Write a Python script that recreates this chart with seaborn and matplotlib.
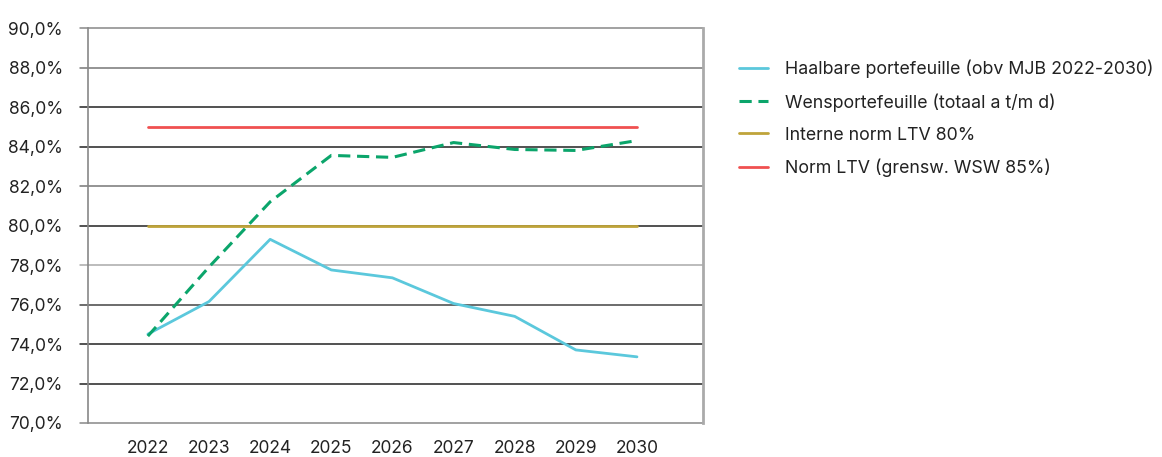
import matplotlib
matplotlib.use("Agg")
import matplotlib.pyplot as plt
import matplotlib.ticker as mticker
import seaborn as sns
import pandas as pd

# Data
years = [2022, 2023, 2024, 2025, 2026, 2027, 2028, 2029, 2030]
haalbaar = [74.5, 76.15, 79.3, 77.75, 77.35, 76.05, 75.4, 73.7, 73.35]
wens = [74.4, 77.9, 81.2, 83.55, 83.45, 84.2, 83.85, 83.8, 84.3]
interne_norm = [80.0] * 9
norm_ltv = [85.0] * 9

labels = [
    "Haalbare portefeuille (obv MJB 2022-2030)",
    "Wensportefeuille (totaal a t/m d)",
    "Interne norm LTV 80%",
    "Norm LTV (grensw. WSW 85%)",
]
colors = ["#5BC8DC", "#0BA56B", "#BFA43A", "#F05050"]

sns.set_theme(style="white")
plt.rcParams["font.family"] = ["Inter", "DejaVu Sans"]

fig = plt.figure(figsize=(11.62, 4.57), dpi=100)
ax = fig.add_axes([0.0757, 0.0744, 0.5293, 0.8643])

# Gridlines (drawn first so lines sit on top)
grid_colors = {90: "#888888", 88: "#777777", 86: "#222222", 84: "#222222", 82: "#777777",
               80: "#222222", 78: "#aaaaaa", 76: "#444444", 74: "#222222", 72: "#222222", 70: "#888888"}
for val, c in grid_colors.items():
    ax.axhline(val, color=c, lw=1.1, zorder=0, clip_on=False, xmin=-0.013)

series = [haalbaar, wens, interne_norm, norm_ltv]
styles = ["-", (0, (4, 2.2)), "-", "-"]
for vals, lab, col, ls in zip(series, labels, colors, styles):
    df = pd.DataFrame({"year": years, "value": vals})
    sns.lineplot(data=df, x="year", y="value", ax=ax, color=col, lw=2.2 if ls != "-" else 2.0,
                 linestyle=ls, label=lab, legend=False, zorder=3)

ax.set_xlim(2021.02, 2031.08)
ax.set_ylim(70, 90)
ax.set_yticks(range(70, 91, 2))
ax.yaxis.set_major_formatter(mticker.FuncFormatter(lambda v, p: f"{v:.1f}%".replace(".", ",")))
ax.set_xticks(years)
ax.set_xlabel("")
ax.set_ylabel("")
ax.tick_params(axis="both", length=0, labelsize=12.5, labelcolor="#222222")
ax.tick_params(axis="x", pad=12)
ax.tick_params(axis="y", pad=18)

for side in ["top", "bottom"]:
    ax.spines[side].set_visible(False)
ax.spines["left"].set_color("#888888")
ax.spines["left"].set_linewidth(1.2)
ax.spines["right"].set_color("#aaaaaa")
ax.spines["right"].set_linewidth(2)

h, l = ax.get_legend_handles_labels()
fig.legend(h, l, loc="upper left", bbox_to_anchor=(0.622, 0.905), frameon=False,
           fontsize=12.8, handlelength=1.65, handletextpad=0.95, labelspacing=0.85,
           labelcolor="#222222")

fig.savefig("out.png", dpi=100)
